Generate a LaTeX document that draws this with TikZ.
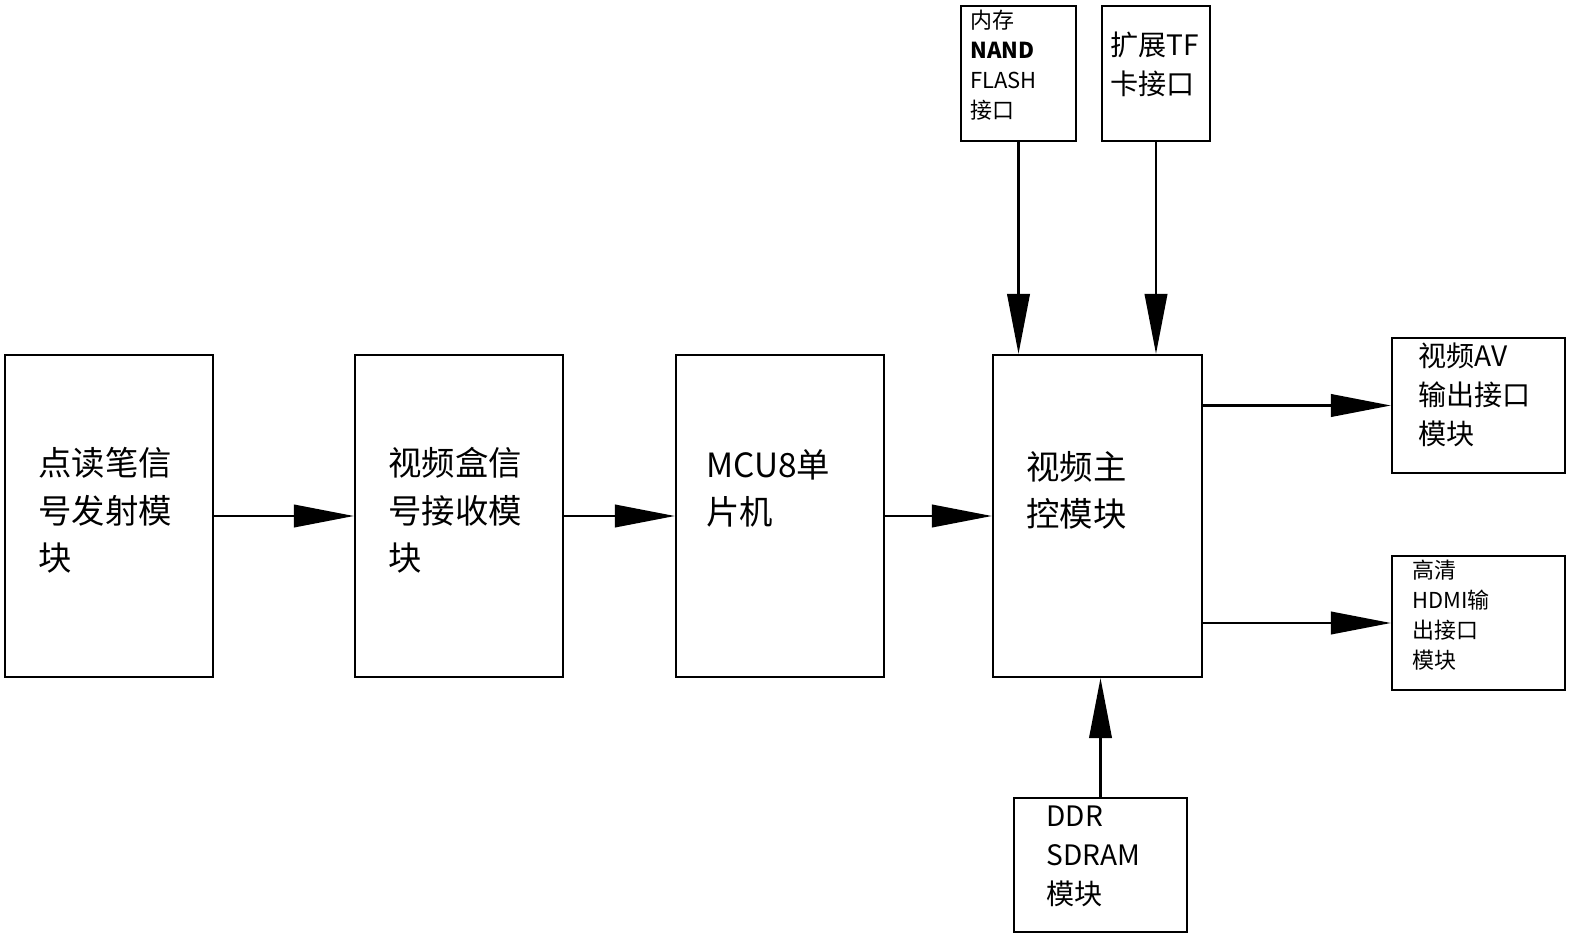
\documentclass[tikz,border=0pt]{standalone}
\usepackage{fontspec}
\setmainfont{Noto Sans CJK SC}
\usetikzlibrary{arrows.meta}
\begin{document}
\begin{tikzpicture}[x=0.02cm,y=-0.02cm]
\tikzstyle{blk} = [draw, line width=1.3pt, inner sep=0]
\tikzstyle{lbl} = [anchor=north west, align=left, inner sep=0, font=\fontsize{19}{27}\selectfont]
\tikzstyle{sml} = [anchor=north west, align=left, inner sep=0, font=\fontsize{12.5}{17}\selectfont]
\tikzstyle{mid} = [anchor=north west, align=left, inner sep=0, font=\fontsize{16}{22}\selectfont]
\tikzstyle{arr} = [-{Triangle[length=1.2cm,width=0.45cm]}, line width=1.3pt]
\useasboundingbox (0,0) rectangle (1572,936);
\node [blk, minimum width=4.16cm, minimum height=6.44cm] (pen) at (109,516) {};
\node [blk, minimum width=4.16cm, minimum height=6.44cm] (rcv) at (459,516) {};
\node [blk, minimum width=4.16cm, minimum height=6.44cm] (mcu) at (780,516) {};
\node [blk, minimum width=4.18cm, minimum height=6.44cm] (ctl) at (1097.5,516) {};
\node [blk, minimum width=2.3cm, minimum height=2.7cm] (nand) at (1018.5,73.5) {};
\node [blk, minimum width=2.16cm, minimum height=2.7cm] (tf) at (1156,73.5) {};
\node [blk, minimum width=3.46cm, minimum height=2.7cm] (av) at (1478.5,405.5) {};
\node [blk, minimum width=3.46cm, minimum height=2.68cm] (hdmi) at (1478.5,623) {};
\node [blk, minimum width=3.46cm, minimum height=2.68cm] (ddr) at (1100.5,865) {};
% texts
\node [lbl] (t1) at (38,447) {点读笔信\\号发射模\\块};
\node [lbl] (t2) at (388,447) {视频盒信\\号接收模\\块};
\node [lbl] (t3) at (706,449) {MCU8单\\片机};
\node [lbl] (t4) at (1026,451) {视频主\\控模块};
\node [sml] (t5) at (970,10) {内存\\\textbf{NAND}\\FLASH\\接口};
\node [mid] (t6) at (1110,32) {扩展TF\\卡接口};
\node [mid] (t7) at (1418,343) {视频AV\\输出接口\\模块};
\node [sml] (t8) at (1412,560) {高清\\HDMI输\\出接口\\模块};
\node [mid] (t9) at (1046,806) {DDR\\SDRAM\\模块};
% connectors
\draw [arr] (pen) -- (rcv);
\draw [arr] (rcv) -- (mcu);
\draw [arr] (mcu) -- (ctl);
\draw [arr] (nand.south) -- (ctl.north -| nand.south);
\draw [arr] (tf.south) -- (ctl.north -| tf.south);
\draw [arr] (ctl.east |- av.west) -- (av.west);
\draw [arr] (ctl.east |- hdmi.west) -- (hdmi.west);
\draw [arr] (ddr.north) -- (ctl.south -| ddr.north);
\end{tikzpicture}
\end{document}
